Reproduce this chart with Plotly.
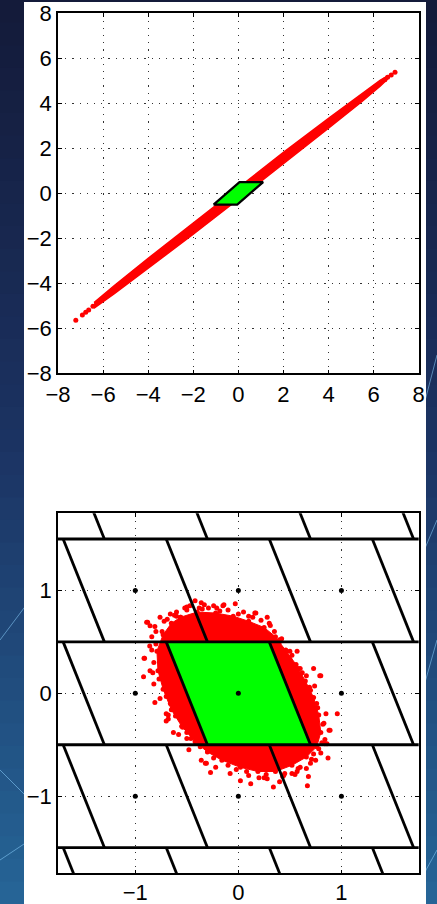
import plotly.graph_objects as go

# ---------------- data ----------------
# top panel: red point band along a line (upper edge, then lower edge back)
band_upper_x = [-6.4, -5.5, -4.0, -2.0, 0.0, 2.0, 4.0, 5.5, 6.3, 6.6]
band_upper_y = [-4.86, -4.10, -2.89, -1.31, 0.26, 1.82, 3.33, 4.45, 5.03, 5.20]
band_lower_x = [6.6, 6.3, 5.5, 4.0, 2.0, 0.0, -2.0, -4.0, -5.5, -6.4]
band_lower_y = [5.06, 4.77, 4.09, 2.89, 1.30, -0.26, -1.82, -3.33, -4.46, -5.10]
# isolated points at the ends of the band
top_pts_x = [-7.21, -6.92, -6.77, -6.64, -6.45, 6.95, 6.78, 6.62, 6.5]
top_pts_y = [-5.64, -5.41, -5.29, -5.19, -5.02, 5.38, 5.26, 5.16, 5.05]
# green cell in the top panel
top_cell_x = [-1.1, -0.05, 1.1, 0.05]
top_cell_y = [-0.5, -0.5, 0.5, 0.5]

# bottom panel: dense part of the red cloud (outline)
cloud_x = [-0.56, -0.40, -0.22, -0.05, 0.10, 0.25, 0.36, 0.46, 0.56, 0.65, 0.73,
           0.78, 0.80, 0.76, 0.66, 0.52, 0.36, 0.19, 0.02, -0.16, -0.30, -0.42,
           -0.55, -0.65, -0.73, -0.78, -0.79, -0.73, -0.65]
cloud_y = [0.74, 0.79, 0.78, 0.75, 0.70, 0.64, 0.55, 0.42, 0.28, 0.12, -0.04,
           -0.21, -0.38, -0.52, -0.62, -0.70, -0.76, -0.76, -0.72, -0.65, -0.57, -0.47,
           -0.32, -0.16, 0.04, 0.22, 0.41, 0.57, 0.68]
# scattered outlying points of the cloud
out_x = [-0.42, -0.52, -0.38, -0.29, -0.21, -0.15, -0.03, 0.16, 0.28, 0.35,
         -0.76, -0.88, -0.81, -0.84, -0.91, -0.92, -0.82, -0.81, -0.70, -0.63,
         -0.50, -0.44, -0.32, -0.27, 0.02, 0.20, 0.34, 0.45, 0.55, 0.66,
         0.67, 0.87, 0.89, 0.96, 0.85, 0.80, 0.74, 0.73, 0.58, 0.57,
         0.47, 0.84, 0.78, 0.73, -0.89, -0.857, -0.50, -0.24, -0.14, -0.915,
         -0.857, -0.86, 0.17, 0.50, 0.60, 0.66, 0.79, -0.68, -0.70, -0.54,
         -0.46, -0.31, -0.02, 0.88, 0.86, 0.75, 0.60, 0.52, 0.25, -0.60,
         0.40, 0.10, -0.66, 0.70,
         -0.60, -0.47, -0.33, -0.10, 0.05, 0.22, 0.31, 0.42, 0.52, 0.62,
         0.70, 0.77, 0.83, 0.84, 0.80, 0.70, 0.57, 0.43, 0.28, 0.10,
         -0.08, -0.22, -0.36, -0.48, -0.58, -0.68, -0.76, -0.83, -0.84, -0.80,
         -0.72, -0.66, 0.40, 0.68, -0.36, 0.12,
         -0.62, -0.50, -0.35, -0.18, 0.00, 0.14, 0.30, 0.40, 0.50, 0.60,
         0.69, 0.76, 0.82, 0.81, 0.71, 0.58, 0.44, 0.27, 0.08, -0.10,
         -0.24, -0.37, -0.50, -0.61, -0.70, -0.77, -0.82, -0.80, -0.74, -0.69]
out_y = [0.90, 0.83, 0.83, 0.83, 0.83, 0.85, 0.87, 0.78, 0.74, 0.60,
         0.74, 0.69, 0.65, 0.55, 0.34, 0.16, 0.09, -0.09, -0.20, -0.38,
         -0.44, -0.41, -0.68, -0.77, -0.85, -0.82, -0.91, -0.78, -0.79, -0.73,
         -0.90, -0.63, -0.36, -0.20, -0.20, 0.17, 0.07, 0.24, 0.24, 0.41,
         0.41, -0.49, -0.54, -0.59, 0.69, 0.657, 0.84, 0.85, 0.86, 0.34,
         0.22, 0.46, 0.78, 0.41, 0.24, 0.17, 0.17, -0.21, -0.27, -0.33,
         -0.44, -0.68, -0.74, -0.36, -0.49, -0.65, -0.72, -0.78, -0.82, 0.75,
         0.50, 0.75, -0.10, -0.45,
         0.79, 0.85, 0.86, 0.81, 0.79, 0.71, 0.66, 0.53, 0.37, 0.20,
         0.03, -0.14, -0.29, -0.45, -0.58, -0.68, -0.76, -0.81, -0.83, -0.80,
         -0.78, -0.72, -0.65, -0.55, -0.40, -0.25, -0.05, 0.20, 0.42, 0.60,
         0.70, 0.77, -0.86, -0.81, 0.88, -0.88,
         0.76, 0.81, 0.82, 0.80, 0.77, 0.74, 0.68, 0.52, 0.33, 0.18,
         0.06, -0.10, -0.30, -0.48, -0.64, -0.73, -0.80, -0.79, -0.76, -0.70,
         -0.63, -0.52, -0.38, -0.22, -0.03, 0.14, 0.30, 0.48, 0.60, 0.72]

# lattice cell (fundamental domain) and lattice points
cell_x = [-0.7, 0.3, 0.7, -0.3]
cell_y = [0.5, 0.5, -0.5, -0.5]
lattice_vals = [-1, 0, 1]
shifts = [-2, -1, 0, 1, 2]

top_ticks = [-8, -6, -4, -2, 0, 2, 4, 6, 8]
bottom_ticks = [-1, 0, 1]

# ---------------- figure ----------------
RED = "#ff0000"
GREEN = "#00ff00"
fig = go.Figure()

# top panel
fig.add_trace(go.Scatter(x=band_upper_x + band_lower_x, y=band_upper_y + band_lower_y,
                         mode="lines", fill="toself", fillcolor=RED,
                         line=dict(color=RED, width=1.5), xaxis="x", yaxis="y",
                         hoverinfo="skip"))
fig.add_trace(go.Scatter(x=top_pts_x, y=top_pts_y, mode="markers",
                         marker=dict(color=RED, size=5), xaxis="x", yaxis="y"))
fig.add_trace(go.Scatter(x=top_cell_x + top_cell_x[:1], y=top_cell_y + top_cell_y[:1],
                         mode="lines", fill="toself", fillcolor=GREEN,
                         line=dict(color="black", width=2.2), xaxis="x", yaxis="y"))

# bottom panel
fig.add_trace(go.Scatter(x=cloud_x + cloud_x[:1], y=cloud_y + cloud_y[:1],
                         mode="lines+markers", fill="toself", fillcolor=RED,
                         line=dict(color=RED, width=1), marker=dict(color=RED, size=5),
                         xaxis="x2", yaxis="y2"))
fig.add_trace(go.Scatter(x=out_x, y=out_y, mode="markers",
                         marker=dict(color=RED, size=5), xaxis="x2", yaxis="y2"))
fig.add_trace(go.Scatter(x=cell_x + cell_x[:1], y=cell_y + cell_y[:1],
                         mode="lines", fill="toself", fillcolor=GREEN,
                         line=dict(color=GREEN, width=0), xaxis="x2", yaxis="y2"))

# lattice tiling lines: translate the cell by integer vectors
lx, ly = [], []
for m in shifts:
    lx += [-3, 3, None]
    ly += [cell_y[0] + m, cell_y[0] + m, None]
    for k in shifts:
        lx += [cell_x[0] + k, cell_x[3] + k, None]
        ly += [cell_y[0] + m, cell_y[3] + m, None]
fig.add_trace(go.Scatter(x=lx, y=ly, mode="lines",
                         line=dict(color="black", width=2.8), xaxis="x2", yaxis="y2"))
px_, py_ = [], []
for a in lattice_vals:
    for b in lattice_vals:
        px_.append(a)
        py_.append(b)
fig.add_trace(go.Scatter(x=px_, y=py_, mode="markers",
                         marker=dict(color="black", size=5), xaxis="x2", yaxis="y2"))

# ---------------- layout ----------------
W, H = 437, 904
font = dict(family="Liberation Sans, Arial, Helvetica, sans-serif", size=22, color="black")
axis_common = dict(showgrid=True, gridcolor="#333333", gridwidth=1, griddash="1.2px,6px",
                   zeroline=False, showline=True, linecolor="black", linewidth=1.6,
                   mirror="ticks", ticks="inside", ticklen=4, tickwidth=1, tickcolor="black",
                   tickfont=font, fixedrange=True, automargin=False)

xdom = [58 / W, 418.7 / W]
fig.update_layout(
    width=W, height=H, margin=dict(l=0, r=0, t=0, b=0, pad=0, autoexpand=False),
    paper_bgcolor="#1b2c58", plot_bgcolor="white", showlegend=False,
    xaxis=dict(domain=xdom, range=[-8, 8], tickvals=top_ticks, anchor="y", **axis_common),
    yaxis=dict(domain=[(H - 373.3) / H, (H - 13.3) / H], range=[-8, 8], tickvals=top_ticks,
               anchor="x", **axis_common),
    xaxis2=dict(domain=xdom, range=[-1.75, 1.75], tickvals=bottom_ticks, anchor="y2",
                ticklabelstandoff=-2, **axis_common),
    yaxis2=dict(domain=[(H - 873.3) / H, (H - 513.3) / H], range=[-1.75, 1.75],
                tickvals=bottom_ticks, anchor="x2", **axis_common),
)

# background: dark blue gradient, faint network lines, white panel
shapes = []
n = 40
top_c = (20, 27, 58)
mid_c = (28, 52, 100)
bot_c = (38, 100, 150)
for i in range(n):
    t = i / (n - 1)
    if t < 0.5:
        s = t / 0.5
        c = tuple(int(top_c[j] + (mid_c[j] - top_c[j]) * s) for j in range(3))
    else:
        s = (t - 0.5) / 0.5
        c = tuple(int(mid_c[j] + (bot_c[j] - mid_c[j]) * s) for j in range(3))
    shapes.append(dict(type="rect", xref="paper", yref="paper", x0=0, x1=1,
                       y0=1 - (i + 1) / n - 0.002, y1=1 - i / n,
                       fillcolor="rgb(%d,%d,%d)" % c, line=dict(width=0), layer="below"))
deco = [((437, 355), (420, 420)), ((437, 520), (420, 560)), ((437, 850), (415, 890)),
        ((0, 640), (30, 600)), ((0, 770), (30, 800)), ((0, 860), (30, 840)),
        ((437, 640), (420, 700))]
for (x0, y0), (x1, y1) in deco:
    shapes.append(dict(type="line", xref="paper", yref="paper", x0=x0 / W, x1=x1 / W,
                       y0=1 - y0 / H, y1=1 - y1 / H,
                       line=dict(color="rgba(140,210,255,0.55)", width=1), layer="below"))
shapes.append(dict(type="rect", xref="paper", yref="paper", x0=24 / W, x1=426 / W,
                   y0=-0.01, y1=1 - 2 / H, fillcolor="white", line=dict(width=0),
                   layer="below"))
fig.update_layout(shapes=shapes)

fig.write_html("out.html",
               config={"displayModeBar": False},
               post_script="document.body.style.margin='0';"
                           "document.body.style.padding='0';"
                           "document.body.style.overflow='hidden';"
                           "document.body.style.background='#1b2c58';")
